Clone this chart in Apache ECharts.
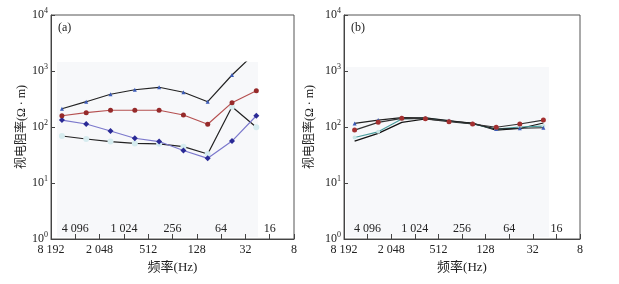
<!DOCTYPE html>
<html><head><meta charset="utf-8">
<script src="https://cdn.jsdelivr.net/npm/echarts@6/dist/echarts.min.js"></script>
<style>html,body{margin:0;padding:0;background:#fff}#c{width:619px;height:284px}</style>
</head><body><div id="c"></div>
<script>
// ---- data ----
const freqs = [6000, 3000, 1500, 750, 375, 187.5, 93.75, 46.875, 23.4375];
const bottomTickLabels = [8192, 2048, 512, 128, 32, 8];
const innerTickLabels = [4096, 1024, 256, 64, 16];
const yTickLabels = [1, 10, 100, 1000, 10000];
const panelLabels = ['(a)', '(b)'];
const yName = '视电阻率(Ω · m)';
const xName = '频率(Hz)';

const a_top  = [212, 283, 384, 463, 512, 417, 283, 848, 2200];
const a_red  = [159, 180, 199, 199, 199, 164, 112, 272, 445];
const a_blue = [133, 113, 85, 63, 55, 38, 27.6, 56, 159];
const a_low  = [69, 61, 55, 51, 50, 44.5, 33, 230, 99];

const b_blue  = [116, 133, 147, 145, 130, 115, 92, 95, 97];
const b_red   = [88, 121, 143, 140, 124, 113, 99, 113, 133];
const b_teal  = [65, 82, 139, 145, 128, 113, 92, 100, 104];
const b_black = [56, 77, 121, 139, 128, 117, 88, 94, 118];

// ---- layout ----
const SERIF = '"Liberation Serif","Noto Sans CJK SC",serif';
const panels = [
  {outer:{x0:51,x1:294,y0:15,y1:239}, inner:{x0:57,x1:258,y0:62,y1:237}, nameGap:22},
  {outer:{x0:344,x1:580,y0:15,y1:239}, inner:{x0:346,x1:549,y0:67,y1:237}, nameGap:28}
];
const XMIN = 8, XMAX = 8192, YMIN = 1, YMAX = 10000;

function fmtNum(v){
  const r = Math.round(v);
  return String(r).replace(/\B(?=(\d{3})+(?!\d))/g, ' ');
}
function inList(list, v){ return list.some(t => Math.abs(t - v) / t < 1e-6); }

const grid = [], xAxis = [], yAxis = [], title = [], extents = [];
panels.forEach((p, i) => {
  const o = p.outer, n = p.inner;
  grid.push({left:o.x0, top:o.y0, width:o.x1-o.x0, height:o.y1-o.y0, show:true, z:4,
    borderColor:'#555', borderWidth:1, backgroundColor:'transparent', containLabel:false});
  grid.push({left:n.x0, top:n.y0, width:n.x1-n.x0, height:n.y1-n.y0, show:false, containLabel:false});
  const W = o.x1 - o.x0, H = o.y1 - o.y0;
  const lhi = Math.log2(XMAX), llo = Math.log2(XMIN);
  const innerMax = Math.pow(2, lhi - (n.x0 - o.x0) / W * (lhi - llo));
  const innerMin = Math.pow(2, lhi - (n.x1 - o.x0) / W * (lhi - llo));
  const ylo = Math.log10(YMIN), yhi = Math.log10(YMAX);
  const yTop = Math.pow(10, ylo + (o.y1 - n.y0) / H * (yhi - ylo));
  const yBot = Math.pow(10, ylo + (o.y1 - n.y1) / H * (yhi - ylo));
  extents.push({xmin:innerMin, xmax:innerMax, ymin:yBot, ymax:yTop});
  const gOut = 2*i, gIn = 2*i+1;
  // outer x: bottom labels
  xAxis.push({type:'log', logBase:2, gridIndex:gOut, inverse:true, min:XMIN, max:XMAX, interval:2, z:6,
    position:'bottom', name:xName, nameLocation:'middle', nameGap:21,
    nameTextStyle:{fontFamily:SERIF, fontSize:13, color:'#222'},
    axisLine:{show:true, lineStyle:{color:'#444', width:1}},
    axisTick:{show:false}, splitLine:{show:false},
    axisLabel:{show:true, margin:5, fontFamily:SERIF, fontSize:12, color:'#222',
      showMinLabel:true, showMaxLabel:true,
      formatter: v => inList(bottomTickLabels, v) ? fmtNum(v) : ''}});
  // outer x: ticks + inner labels
  xAxis.push({type:'log', logBase:2, gridIndex:gOut, inverse:true, min:XMIN, max:XMAX, interval:1, z:6,
    position:'bottom',
    axisLine:{show:false}, splitLine:{show:false},
    axisTick:{show:true, inside:true, length:5, lineStyle:{color:'#444'}},
    axisLabel:{show:true, inside:true, margin:4, fontFamily:SERIF, fontSize:12, color:'#222',
      formatter: v => inList(innerTickLabels, v) ? fmtNum(v) : ''}});
  // inner hidden x
  xAxis.push({type:'log', logBase:2, gridIndex:gIn, inverse:true, min:innerMin, max:innerMax, show:false});
  // outer y
  yAxis.push({type:'log', gridIndex:gOut, min:YMIN, max:YMAX, logBase:10, z:6,
    name:yName, nameLocation:'middle', nameGap:p.nameGap, nameRotate:90,
    nameTextStyle:{fontFamily:SERIF, fontSize:12, color:'#222'},
    axisLine:{show:true, lineStyle:{color:'#444', width:1}},
    axisTick:{show:true, inside:true, length:4, lineStyle:{color:'#444'}},
    splitLine:{show:false},
    axisLabel:{show:true, margin:3, fontFamily:SERIF, fontSize:12, color:'#222',
      showMinLabel:true, showMaxLabel:true,
      formatter: v => inList(yTickLabels, v) ? '10{s|' + Math.round(Math.log10(v)) + '}' : '',
      rich:{s:{fontSize:8, fontFamily:SERIF, color:'#222', padding:[0,0,8,0]}}}});
  // inner hidden y
  yAxis.push({type:'log', gridIndex:gIn, min:yBot, max:yTop, show:false});
  title.push({text:panelLabels[i], left:o.x0+7, top:22, padding:0,
    textStyle:{fontFamily:SERIF, fontSize:12, fontWeight:'normal', color:'#222'}});
});

function pairs(vals){ return freqs.map((f, k) => [f, vals[k]]); }
function mk(panel, vals, lineColor, sym, symSize, symColor, z, shade){
  const s = {type:'line', xAxisIndex:3*panel+2, yAxisIndex:2*panel+1, data:pairs(vals),
    symbol:sym, symbolSize:symSize, showSymbol:sym!=='none', clip:true, z:z,
    lineStyle:{color:lineColor, width:1.2}, itemStyle:{color:symColor, borderWidth:0},
    emphasis:{disabled:true}};
  if (shade) {
    const e = extents[panel];
    s.markArea = {silent:true, z:1, itemStyle:{color:'#f7f8fa'},
      data:[[{coord:[e.xmax, e.ymin]}, {coord:[e.xmin, e.ymax]}]]};
  }
  return s;
}
const series = [
  mk(0, a_low,  '#222222', 'circle',   6, '#d6ecef', 2, true),
  mk(0, a_blue, '#7b78cc', 'diamond',  6, '#2a2a96', 3),
  mk(0, a_red,  '#b55050', 'circle',   5, '#962a2a', 4),
  mk(0, a_top,  '#222222', 'triangle', 4, '#3b5bb8', 5),
  mk(1, b_black,'#111111', 'none',     0, '#111111', 2, true),
  mk(1, b_teal, '#4a9e9e', 'circle',   4, '#c8e6e6', 3),
  mk(1, b_blue, '#222222', 'triangle', 4, '#3b5bb8', 4),
  mk(1, b_red,  '#333333', 'circle',   5, '#a33030', 5)
];

const chart = echarts.init(document.getElementById('c'), null, {renderer:'canvas'});
chart.setOption({animation:false, backgroundColor:'#ffffff', title, grid, xAxis, yAxis, series});
</script></body></html>
